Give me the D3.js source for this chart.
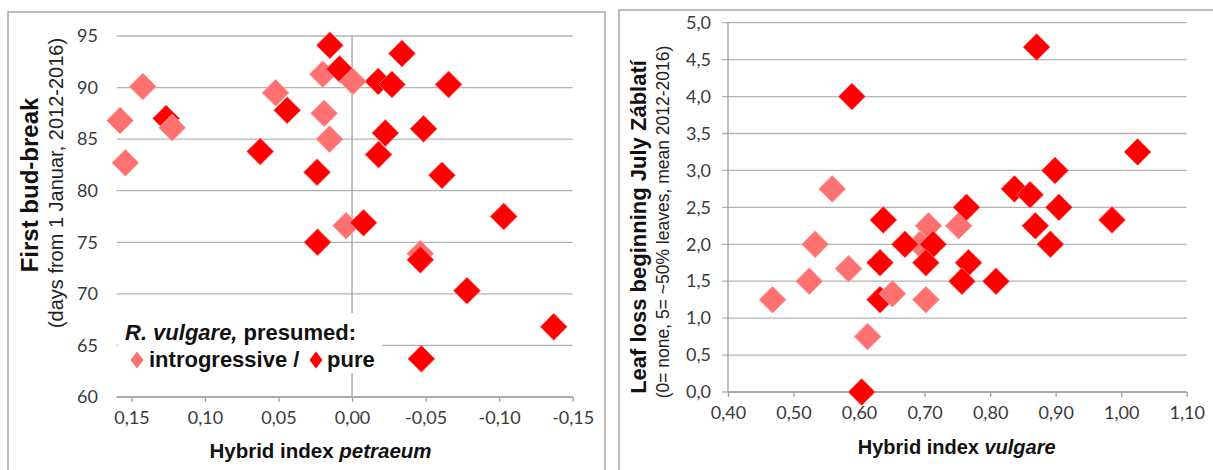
<!DOCTYPE html>
<html><head><meta charset="utf-8">
<script src="https://cdn.jsdelivr.net/npm/d3@7"></script>
<style>
html,body{margin:0;padding:0;background:#fff;}
svg{display:block;}
</style></head>
<body>
<svg id="chart" width="1213" height="470"></svg>
<script>
// ---------- Data: left chart (First bud-break vs Hybrid index petraeum) ----------
// type: "i" = introgressive (pink), "p" = pure (red); listed in drawing order
const budX = [0.1577, 0.1541, 0.1423, 0.0520, 0.0199, 0.0190, 0.0153, 0.0041, -0.0464,
  0.1264, 0.0441, 0.0624, 0.0151, 0.0085, 0.0238, -0.0078, -0.0178, -0.0271, -0.0656, -0.0339,
  -0.0226, -0.0486, -0.0180, -0.0611, -0.1031, 0.0235, -0.0464, -0.0781, -0.1371, -0.0471,
  0.1223, -0.0005];
const budY = [86.8, 82.7, 90.1, 89.5, 91.3, 87.5, 85.0, 76.6, 73.9,
  87.0, 87.8, 83.8, 94.1, 91.8, 81.8, 76.9, 90.6, 90.3, 90.3, 93.3,
  85.6, 86.0, 83.5, 81.5, 77.5, 75.0, 73.3, 70.3, 66.8, 63.7,
  86.1, 90.6];
const budType = ["i","i","i","i","i","i","i","i","i",
  "p","p","p","p","p","p","p","p","p","p","p",
  "p","p","p","p","p","p","p","p","p","p",
  "i","i"];
const budTicksY = [60, 65, 70, 75, 80, 85, 90, 95];
const budTicksX = [0.15, 0.10, 0.05, 0.00, -0.05, -0.10, -0.15];

// ---------- Data: right chart (Leaf loss vs Hybrid index vulgare) ----------
const leafX = [0.468, 0.524, 0.533, 0.559, 0.584, 0.613, 0.693, 0.702, 0.706, 0.752,
  0.589, 0.871, 1.025, 0.899, 0.837, 0.861, 0.764, 0.905, 0.986, 0.869, 0.892,
  0.767, 0.757, 0.809, 0.637, 0.632, 0.632, 0.604, 0.670, 0.713, 0.702,
  0.651];
const leafY = [1.25, 1.50, 2.00, 2.75, 1.67, 0.75, 2.00, 1.25, 2.25, 2.25,
  4.00, 4.67, 3.25, 3.00, 2.75, 2.67, 2.50, 2.50, 2.33, 2.25, 2.00,
  1.75, 1.50, 1.50, 2.33, 1.75, 1.25, 0.00, 2.00, 2.00, 1.75,
  1.33];
const leafType = ["i","i","i","i","i","i","i","i","i","i",
  "p","p","p","p","p","p","p","p","p","p","p",
  "p","p","p","p","p","p","p","p","p","p",
  "i"];
const leafTicksY = [0, 0.5, 1.0, 1.5, 2.0, 2.5, 3.0, 3.5, 4.0, 4.5, 5.0];
const leafTicksX = [0.40, 0.50, 0.60, 0.70, 0.80, 0.90, 1.00, 1.10];

// ---------- Styles ----------
const COL = {i: "#ff7070", p: "#ff0000"};
const STROKE = {i: "#ffb0b0", p: "#ff7a7a"};
const GRID = "#b3b3b3";
const TICKFONT = "Lato, 'Open Sans', sans-serif";
const BOLDFONT = "'Liberation Sans', Arial, sans-serif";
const fmt1 = v => d3.format(".1f")(v).replace(".", ",");
const fmt2 = v => d3.format(".2f")(v).replace(".", ",").replace("−", "-");

const svg = d3.select("#chart");
const H = 13.5; // diamond half-diagonal
const diamond = (h, w) => `M0,${-h}L${w},0L0,${h}L${-w},0Z`;

// Panel frames
svg.append("rect").attr("x", 8).attr("y", 12).attr("width", 597).attr("height", 480)
  .attr("fill", "none").attr("stroke", "#a6a6a6").attr("stroke-width", 1.5);
svg.append("rect").attr("x", 619).attr("y", 10).attr("width", 620).attr("height", 480)
  .attr("fill", "none").attr("stroke", "#a6a6a6").attr("stroke-width", 1.5);

// ================= LEFT CHART =================
{
  const x = d3.scaleLinear().domain([0.16, -0.15]).range([116.7, 572.7]);
  const y = d3.scaleLinear().domain([60, 95]).range([397, 36]);
  const g = svg.append("g");

  g.selectAll(".gl").data(budTicksY).join("line")
    .attr("x1", x(0.16)).attr("x2", x(-0.15))
    .attr("y1", d => y(d)).attr("y2", d => y(d))
    .attr("stroke", GRID).attr("stroke-width", 1.3);
  g.append("line").attr("x1", x(0)).attr("x2", x(0)).attr("y1", y(95)).attr("y2", y(60))
    .attr("stroke", "#a0a0a0").attr("stroke-width", 1.3);

  const xa = d3.axisBottom(x).tickValues(budTicksX).tickSize(5).tickPadding(9).tickFormat(fmt2);
  const gx = g.append("g").attr("transform", `translate(0,${y(60)})`).call(xa);
  gx.select(".domain").attr("stroke", "#a0a0a0").attr("stroke-width", 1.3)
    .attr("d", `M${x(0.16)},0H${x(-0.15)}`);
  gx.selectAll(".tick line").attr("stroke", "#a0a0a0").attr("stroke-width", 1.3);
  gx.selectAll(".tick text").attr("font-family", TICKFONT).attr("font-size", 18)
    .attr("fill", "#3a3a3a");

  const ya = d3.axisLeft(y).tickValues(budTicksY).tickSize(0).tickPadding(0).tickFormat(d3.format("d"));
  const gy = g.append("g").attr("transform", `translate(98,0)`).call(ya);
  gy.select(".domain").remove();
  gy.selectAll(".tick text").attr("font-family", TICKFONT).attr("font-size", 18)
    .attr("fill", "#3a3a3a");

  g.selectAll(".pt").data(budX.map((v, i) => ({x: v, y: budY[i], t: budType[i]}))).join("path")
    .attr("d", diamond(H, H))
    .attr("transform", d => `translate(${x(d.x)},${y(d.y)})`)
    .attr("fill", d => COL[d.t]).attr("stroke", d => STROKE[d.t]).attr("stroke-width", 0.8);

  // legend box
  g.append("rect").attr("x", 118).attr("y", 313).attr("width", 264).attr("height", 60).attr("fill", "#fff");
  const l1 = g.append("text").attr("x", 125).attr("y", 340)
    .attr("font-family", BOLDFONT).attr("font-weight", "bold").attr("font-size", 22).attr("fill", "#111");
  l1.append("tspan").attr("font-style", "italic").text("R. vulgare,");
  l1.append("tspan").text(" presumed:");
  g.append("path").attr("d", diamond(8.5, 6.5)).attr("transform", "translate(137,360)").attr("fill", COL.i);
  g.append("text").attr("x", 149).attr("y", 367)
    .attr("font-family", BOLDFONT).attr("font-weight", "bold").attr("font-size", 22).attr("fill", "#111")
    .text("introgressive /");
  g.append("path").attr("d", diamond(8.5, 6.5)).attr("transform", "translate(316,360)").attr("fill", COL.p);
  g.append("text").attr("x", 327).attr("y", 367)
    .attr("font-family", BOLDFONT).attr("font-weight", "bold").attr("font-size", 22).attr("fill", "#111")
    .text("pure");

  const xt = g.append("text").attr("x", 320.5).attr("y", 458).attr("text-anchor", "middle")
    .attr("font-family", BOLDFONT).attr("font-weight", "bold").attr("font-size", 20.5).attr("fill", "#111");
  xt.append("tspan").text("Hybrid index ");
  xt.append("tspan").attr("font-style", "italic").text("petraeum");

  g.append("text").attr("transform", "translate(38,185) rotate(-90)").attr("text-anchor", "middle")
    .attr("font-family", BOLDFONT).attr("font-weight", "bold").attr("font-size", 24).attr("fill", "#111")
    .text("First bud-break");
  g.append("text").attr("transform", "translate(63,183) rotate(-90)").attr("text-anchor", "middle")
    .attr("font-family", BOLDFONT).attr("font-size", 20).attr("fill", "#222")
    .text("(days from 1 Januar, 2012-2016)");
}

// ================= RIGHT CHART =================
{
  const x = d3.scaleLinear().domain([0.4, 1.1]).range([728, 1186.7]);
  const y = d3.scaleLinear().domain([0, 5]).range([392, 22.7]);
  const g = svg.append("g");

  g.selectAll(".gl").data(leafTicksY).join("line")
    .attr("x1", x(0.4) - 6).attr("x2", x(1.1))
    .attr("y1", d => y(d)).attr("y2", d => y(d))
    .attr("stroke", GRID).attr("stroke-width", 1.3);
  g.append("line").attr("x1", x(0.4)).attr("x2", x(0.4)).attr("y1", y(5)).attr("y2", y(0))
    .attr("stroke", "#a0a0a0").attr("stroke-width", 1.3);

  const xa = d3.axisBottom(x).tickValues(leafTicksX).tickSize(5).tickPadding(9).tickFormat(fmt2);
  const gx = g.append("g").attr("transform", `translate(0,${y(0)})`).call(xa);
  gx.select(".domain").attr("stroke", "#a0a0a0").attr("stroke-width", 1.3)
    .attr("d", `M${x(0.4)},0H${x(1.1)}`);
  gx.selectAll(".tick line").attr("stroke", "#a0a0a0").attr("stroke-width", 1.3);
  gx.selectAll(".tick text").attr("font-family", TICKFONT).attr("font-size", 18)
    .attr("fill", "#3a3a3a");

  const ya = d3.axisLeft(y).tickValues(leafTicksY).tickSize(0).tickPadding(0).tickFormat(fmt1);
  const gy = g.append("g").attr("transform", `translate(711,0)`).call(ya);
  gy.select(".domain").remove();
  gy.selectAll(".tick text").attr("font-family", TICKFONT).attr("font-size", 18)
    .attr("fill", "#3a3a3a");

  g.selectAll(".pt").data(leafX.map((v, i) => ({x: v, y: leafY[i], t: leafType[i]}))).join("path")
    .attr("d", diamond(H, H))
    .attr("transform", d => `translate(${x(d.x)},${y(d.y)})`)
    .attr("fill", d => COL[d.t]).attr("stroke", d => STROKE[d.t]).attr("stroke-width", 0.8);

  const xt = g.append("text").attr("x", 956.7).attr("y", 454).attr("text-anchor", "middle")
    .attr("font-family", BOLDFONT).attr("font-weight", "bold").attr("font-size", 20).attr("fill", "#111");
  xt.append("tspan").text("Hybrid index ");
  xt.append("tspan").attr("font-style", "italic").text("vulgare");

  g.append("text").attr("transform", "translate(646,227) rotate(-90)").attr("text-anchor", "middle")
    .attr("font-family", BOLDFONT).attr("font-weight", "bold").attr("font-size", 22).attr("fill", "#111")
    .text("Leaf loss beginning July Záblatí");
  g.append("text").attr("transform", "translate(669,222) rotate(-90)").attr("text-anchor", "middle")
    .attr("font-family", BOLDFONT).attr("font-size", 17.5).attr("fill", "#222")
    .text("(0= none, 5= ~50% leaves, mean 2012-2016)");
}
</script>
</body></html>
